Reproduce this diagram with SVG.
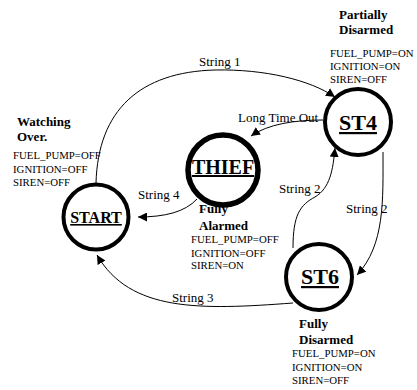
<svg xmlns="http://www.w3.org/2000/svg" width="417" height="390" viewBox="0 0 417 390">
<defs>
<style>
text{font-family:"Liberation Serif","Times New Roman",serif;fill:#000}
.st{fill:none;stroke:#000;stroke-width:4}
.thief{fill:none;stroke:#000;stroke-width:5.5}
.name{font-weight:bold;text-decoration:underline}
.hd{font-weight:bold;font-size:13px}
.vars{font-size:10.8px}
.lbl{font-size:13px}
.edge{fill:none;stroke:#000;stroke-width:1}
</style>
<marker id="arr" viewBox="0 0 10 10" refX="10" refY="5" markerWidth="9" markerHeight="9" markerUnits="userSpaceOnUse" orient="auto">
<path d="M0,0 L10,5 L0,10 z" fill="#000"/>
</marker>
</defs>
<rect width="417" height="390" fill="#fff"/>

<g id="connectors">
<path class="edge" marker-end="url(#arr)" d="M96,183 C 98,110 140,72 215,70 C 265,69 310,80 335,97"/>
<path class="edge" marker-end="url(#arr)" d="M323,120 C 295,120 268,124 251,136"/>
<path class="edge" marker-end="url(#arr)" d="M293,248 C 293,215 300,205 315,197 C 330,188 333,170 335,148"/>
<path class="edge" marker-end="url(#arr)" d="M383,152 C 383,200 385,245 357,275"/>
<path class="edge" marker-end="url(#arr)" d="M197,199 C 185,212 165,217 138,217"/>
<path class="edge" marker-end="url(#arr)" d="M293,303 C 200,310 130,312 97,255"/>
<text class="lbl" x="199" y="66">String 1</text>
<text class="lbl" x="238" y="122">Long Time Out</text>
<text class="lbl" x="279" y="193">String 2</text>
<text class="lbl" x="346" y="213">String 2</text>
<text class="lbl" x="138" y="199">String 4</text>
<text class="lbl" x="172" y="302">String 3</text>
</g>

<g id="START">
<circle class="st" cx="96" cy="217" r="32.5"/>
<text class="name" x="96" y="223" font-size="16" text-anchor="middle">START</text>
<text class="hd" x="17" y="126">Watching</text>
<text class="hd" x="17" y="141">Over.</text>
<text class="vars" x="13" y="159">FUEL_PUMP=OFF</text>
<text class="vars" x="13" y="173">IGNITION=OFF</text>
<text class="vars" x="13" y="186">SIREN=OFF</text>
</g>

<g id="THIEF">
<circle class="thief" cx="223" cy="170" r="35"/>
<text class="name" x="223" y="174" font-size="20" text-anchor="middle">THIEF</text>
<text class="hd" x="199" y="213">Fully</text>
<text class="hd" x="199" y="230">Alarmed</text>
<text class="vars" x="191" y="243">FUEL_PUMP=OFF</text>
<text class="vars" x="191" y="257">IGNITION=OFF</text>
<text class="vars" x="191" y="269">SIREN=ON</text>
</g>

<g id="ST4">
<circle class="st" cx="358" cy="122" r="33"/>
<text class="name" x="358" y="130" font-size="22" text-anchor="middle">ST4</text>
<text class="hd" x="339" y="19">Partially</text>
<text class="hd" x="339" y="34">Disarmed</text>
<text class="vars" x="330" y="57">FUEL_PUMP=ON</text>
<text class="vars" x="330" y="70">IGNITION=ON</text>
<text class="vars" x="330" y="83">SIREN=OFF</text>
</g>

<g id="ST6">
<circle class="st" cx="319" cy="277" r="33"/>
<text class="name" x="320" y="284" font-size="22" text-anchor="middle">ST6</text>
<text class="hd" x="299" y="328">Fully</text>
<text class="hd" x="299" y="344">Disarmed</text>
<text class="vars" x="292" y="357">FUEL_PUMP=ON</text>
<text class="vars" x="292" y="371">IGNITION=ON</text>
<text class="vars" x="292" y="384">SIREN=OFF</text>
</g>
</svg>
